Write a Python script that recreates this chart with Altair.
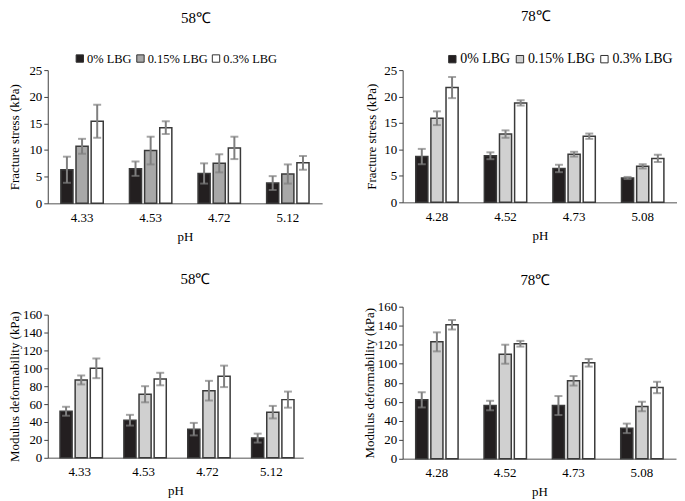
import altair as alt
import pandas as pd

groups = ["0% LBG", "0.15% LBG", "0.3% LBG"]

# Panel A: 58℃ fracture stress
ph_a = ["4.33", "4.53", "4.72", "5.12"]
a_m0 = [6.3, 6.5, 5.6, 3.8]
a_s0 = [2.45, 1.35, 1.9, 1.3]
a_m15 = [10.7, 9.9, 7.5, 5.5]
a_s15 = [1.4, 2.6, 1.7, 1.8]
a_m30 = [15.4, 14.2, 10.4, 7.6]
a_s30 = [3.1, 1.2, 2.1, 1.3]

# Panel B: 78℃ fracture stress
ph_b = ["4.28", "4.52", "4.73", "5.08"]
b_m0 = [8.65, 8.8, 6.4, 4.6]
b_s0 = [1.45, 0.65, 0.7, 0.2]
b_m15 = [15.9, 12.9, 9.1, 6.8]
b_s15 = [1.3, 0.7, 0.45, 0.4]
b_m30 = [21.7, 18.8, 12.5, 8.3]
b_s30 = [2.0, 0.5, 0.5, 0.7]

# Panel C: 58℃ modulus deformability
ph_c = ["4.33", "4.53", "4.72", "5.12"]
c_m0 = [52, 42, 32, 22]
c_s0 = [5, 6, 7, 5]
c_m15 = [87, 71, 75, 51]
c_s15 = [5, 9, 11, 7]
c_m30 = [100, 88, 91, 65]
c_s30 = [11, 7, 12, 9]

# Panel D: 78℃ modulus deformability
ph_d = ["4.28", "4.52", "4.73", "5.08"]
d_m0 = [62, 56, 56, 32]
d_s0 = [8, 5, 10, 5]
d_m15 = [123, 110, 82, 55]
d_s15 = [10, 10, 5, 5]
d_m30 = [141, 121, 101, 75]
d_s30 = [5, 3, 4, 6]

FONT = "Liberation Serif"
BLACK = "#231f20"
WHITE = "#ffffff"


def make_df(ph, m0, s0, m15, s15, m30, s30):
    rows = []
    for g, ms, ss in zip(groups, [m0, m15, m30], [s0, s15, s30]):
        for p, m, s in zip(ph, ms, ss):
            rows.append({"pH": p, "group": g, "mean": m, "lo": m - s, "hi": m + s})
    return pd.DataFrame(rows)


def panel(df, ph, title, dx, toff, ytitle, ymax, ystep, w, h, gray, legend_xy,
          legend_fs=13, ytitle_pad=1, x_in=0.36, off_in=0.2):
    if legend_xy is None:
        legend = None
    else:
        legend = alt.Legend(
            orient="none", legendX=legend_xy[0], legendY=legend_xy[1],
            direction="horizontal", columns=3, title=None,
            symbolType="square", symbolSize=55, symbolStrokeColor="#303030",
            symbolStrokeWidth=1, labelFont=FONT, labelFontSize=legend_fs,
            labelColor="black", labelOffset=1, columnPadding=2, padding=0,
        )
    base = alt.Chart(df).encode(
        x=alt.X("pH:N", sort=ph, title="pH",
                scale=alt.Scale(paddingInner=x_in, paddingOuter=x_in / 2),
                axis=alt.Axis(labelAngle=0, ticks=False, domainColor="#8c8c8c",
                              domainWidth=1.5, labelFont=FONT, labelFontSize=13,
                              labelColor="black", labelPadding=8,
                              titleFont=FONT, titleFontSize=13,
                              titleFontWeight="normal", titleColor="black",
                              titlePadding=6)),
        xOffset=alt.XOffset("group:N", sort=groups,
                            scale=alt.Scale(paddingInner=off_in, paddingOuter=0.05)),
    )
    yscale = alt.Scale(domain=[0, ymax], nice=False)
    yax = alt.Axis(values=list(range(0, ymax + 1, ystep)), grid=False,
                   labelOverlap=False, labelFlush=False,
                   domainColor="#404040", tickColor="#404040", tickSize=4,
                   labelFont=FONT, labelFontSize=13, labelColor="black",
                   labelPadding=2, titleFont=FONT, titleFontSize=13,
                   titleFontWeight="normal", titleColor="black",
                   titlePadding=ytitle_pad)
    bars = base.mark_bar(stroke="#3a3a3a", strokeWidth=1.5).encode(
        y=alt.Y("mean:Q", title=ytitle, scale=yscale, axis=yax),
        color=alt.Color("group:N", sort=groups,
                        scale=alt.Scale(domain=groups, range=[BLACK, gray, WHITE]),
                        legend=legend),
    )
    rule = base.mark_rule(color="#7f7f7f", strokeWidth=2).encode(
        y=alt.Y("lo:Q", title=ytitle, scale=yscale, axis=yax), y2="hi:Q")
    cap_hi = base.mark_tick(color="#7f7f7f", thickness=2, size=8).encode(
        y=alt.Y("hi:Q", title=ytitle, scale=yscale, axis=yax))
    cap_lo = base.mark_tick(color="#7f7f7f", thickness=2, size=8).encode(
        y=alt.Y("lo:Q", title=ytitle, scale=yscale, axis=yax))
    return alt.layer(bars, rule, cap_hi, cap_lo).properties(
        width=w, height=h,
        title=alt.TitleParams(text=title, font=FONT, fontSize=15,
                              fontWeight="normal", color="black",
                              anchor="middle", dx=dx, offset=toff),
    )


pa = panel(make_df(ph_a, a_m0, a_s0, a_m15, a_s15, a_m30, a_s30), ph_a,
           "58℃", 11, 26, "Fracture stress (kPa)", 25, 5, 276, 134,
           "#a8a8a8", (26, -18), legend_fs=12.5, ytitle_pad=7)
pb = panel(make_df(ph_b, b_m0, b_s0, b_m15, b_s15, b_m30, b_s30), ph_b,
           "78℃", -4, 28, "Fracture stress (kPa)", 25, 5, 276, 133,
           "#d0d0d0", (43, -18), legend_fs=14, ytitle_pad=5)
pc = panel(make_df(ph_c, c_m0, c_s0, c_m15, c_s15, c_m30, c_s30), ph_c,
           "58℃", 20, 22, "Modulus deformability (kPa)", 160, 20, 257, 144,
           "#d0d0d0", None)
pd_ = panel(make_df(ph_d, d_m0, d_s0, d_m15, d_s15, d_m30, d_s30), ph_d,
            "78℃", -4, 13, "Modulus deformability (kPa)", 160, 20, 275, 153,
            "#d0d0d0", None)

col1 = alt.vconcat(pa, pc, spacing=29).resolve_scale(color="independent").resolve_legend(color="independent")
col2 = alt.vconcat(pb, pd_, spacing=31).resolve_scale(color="independent").resolve_legend(color="independent")

chart = alt.hconcat(col1, col2, spacing=41).resolve_scale(
    color="independent").resolve_legend(color="independent").properties(
    padding=0).configure_view(stroke=None)

chart.save("out.html", embed_options={"renderer": "svg", "actions": False})
